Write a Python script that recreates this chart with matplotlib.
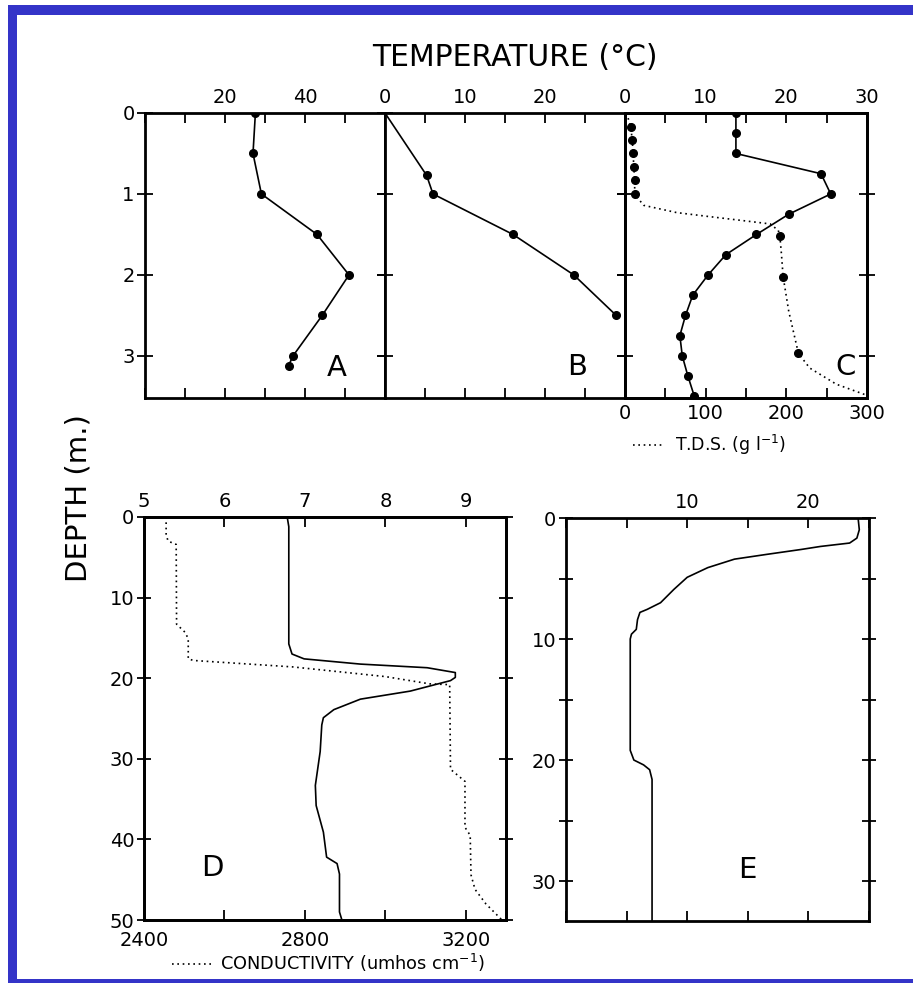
import matplotlib
matplotlib.use('Agg')
import matplotlib.pyplot as plt
from matplotlib.patches import Rectangle

# ---------------- data ----------------
# Panel A
a_depth = [0.0, 0.5, 1.0, 1.5, 2.0, 2.5, 3.0, 3.12]
a_value = [27.6, 27.0, 29.1, 43.0, 51.0, 44.3, 37.0, 35.9]

# Panel B
b_depth = [0.0, 0.77, 1.0, 1.5, 2.0, 2.5]
b_temp = [0.0, 5.2, 6.0, 16.0, 23.6, 28.9]

# Panel C: temperature
c_depth = [0.0, 0.25, 0.5, 0.75, 1.0, 1.25, 1.5, 1.75, 2.0, 2.25, 2.5, 2.75, 3.0, 3.25, 3.5]
c_temp = [13.75, 13.75, 13.75, 24.3, 25.5, 20.3, 16.3, 12.5, 10.3, 8.4, 7.5, 6.8, 7.1, 7.8, 8.6]
# Panel C: T.D.S. samples and profile
c_tds_pt_depth = [0.17, 0.33, 0.5, 0.67, 0.83, 1.0, 1.52, 2.02, 2.97]
c_tds_pt = [7, 9, 10, 11, 12, 12, 192, 196, 215]
c_tds_line_depth = [0.0, 0.17, 0.33, 0.5, 0.67, 0.83, 1.0, 1.14, 1.23, 1.28, 1.33, 1.37,
                    1.45, 1.52, 1.75, 2.02, 2.45, 2.97, 3.15, 3.35, 3.48]
c_tds_line = [2, 7, 9, 10, 11, 12, 12, 23, 64, 105, 147, 180,
              190, 192, 194, 196, 203, 215, 229, 262, 298]

# Panel D: solid profile (top scale) and conductivity (bottom scale)
d_ph_depth = [0, 1.2, 15.75, 17, 17.6, 18.25, 18.7, 19.3, 19.9, 20.3, 21.6, 22.6,
              23.9, 24.9, 25.8, 29.1, 33.3, 35.8, 39.1, 42.2, 43, 44.3, 49, 50]
d_ph = [6.78, 6.80, 6.80, 6.84, 6.99, 7.69, 8.52, 8.87, 8.87, 8.81, 8.31, 7.69,
        7.36, 7.23, 7.21, 7.19, 7.13, 7.14, 7.23, 7.27, 7.40, 7.43, 7.43, 7.46]
d_cond_depth = [0, 2.2, 3.0, 3.4, 13.3, 14.3, 15.1, 17.6, 17.8, 18.6, 19.8, 20.7, 20.8,
                31.3, 32.8, 38.5, 39.5, 44.4, 46.2, 48, 50]
d_cond = [2455, 2455, 2460, 2480, 2481, 2502, 2510, 2510, 2523, 2770, 3000, 3110, 3160,
          3162, 3198, 3198, 3211, 3213, 3223, 3250, 3290]

# Panel E
e_depth = [0, 0.97, 1.66, 2.07, 2.35, 2.6, 3.0, 3.4, 4.1, 4.9, 5.9, 7.0, 7.55, 7.8,
           8.4, 9.2, 9.6, 10, 19.2, 20.0, 20.4, 20.8, 21.6, 33.3]
e_temp = [24.1, 24.2, 24.0, 23.4, 21.0, 19.4, 16.6, 13.9, 11.7, 10.0, 8.9, 7.8, 6.7, 6.1,
          5.9, 5.8, 5.4, 5.3, 5.3, 5.6, 6.4, 6.9, 7.1, 7.1]

# ---------------- figure ----------------
W, H = 913, 983
fig = plt.figure(figsize=(W / 100, H / 100), dpi=100)
plt.rcParams['font.family'] = ['DejaVu Sans']

BLUE = '#3434c8'
for (x0, y0, x1, y1) in [(8, 5, 17, 983), (8, 5, 913, 15), (8, 979, 913, 983)]:
    fig.add_artist(Rectangle((x0 / W, 1 - y1 / H), (x1 - x0) / W, (y1 - y0) / H,
                             transform=fig.transFigure, color=BLUE, lw=0, zorder=0))


def box(l, t, r, b):
    return [l / W, 1 - b / H, (r - l) / W, (b - t) / H]


TS = 14


def style(ax, ylen=11):
    for s in ax.spines.values():
        s.set_linewidth(2.0)
    ax.tick_params(axis='x', which='both', direction='in', length=7, width=1.3,
                   top=True, bottom=True, labelsize=TS, pad=4)
    ax.tick_params(axis='y', direction='inout', length=ylen, width=1.3,
                   left=True, right=True, labelsize=TS, pad=2)


LW = 1.2
MS = 5.5
DOT = (0, (1, 2.2))

# Panel A
axA = fig.add_axes(box(145, 113, 385, 398))
axA.plot(a_value, a_depth, '-', color='k', lw=LW, marker='o', ms=MS)
axA.set_xlim(0, 60)
axA.set_ylim(3.52, 0)
axA.set_xticks(range(0, 61, 10))
axA.set_xticklabels(['', '', '20', '', '40', '', ''])
axA.set_yticks([0, 1, 2, 3])
style(axA)
axA.tick_params(axis='x', labeltop=True, labelbottom=False)
axA.text(0.80, 0.105, 'A', transform=axA.transAxes, fontsize=21, ha='center', va='center')

# Panel B
axB = fig.add_axes(box(385, 113, 625, 398))
axB.plot(b_temp, b_depth, '-', color='k', lw=LW, marker='o', ms=MS,
         markevery=list(range(1, len(b_temp))))
axB.set_xlim(0, 30)
axB.set_ylim(3.52, 0)
axB.set_xticks(range(0, 31, 5))
axB.set_xticklabels(['0', '', '10', '', '20', '', ''])
axB.set_yticks([1, 2, 3])
style(axB)
axB.tick_params(axis='x', labeltop=True, labelbottom=False)
axB.tick_params(axis='y', labelleft=False)
axB.text(0.80, 0.11, 'B', transform=axB.transAxes, fontsize=21, ha='center', va='center')

# Panel C
axC = fig.add_axes(box(625, 113, 867, 398))
tds_line, = axC.plot(c_tds_line, c_tds_line_depth, linestyle=DOT, color='k', lw=LW)
axC.plot(c_tds_pt, c_tds_pt_depth, 'o', color='k', ms=MS)
axC.set_xlim(0, 300)
axC.set_ylim(3.52, 0)
axC.set_xticks(range(0, 301, 50))
axC.set_xticklabels(['0', '', '100', '', '200', '', '300'])
axC.set_yticks([1, 2, 3])
style(axC)
axC.tick_params(axis='x', labeltop=False, labelbottom=True, top=False)
axC.tick_params(axis='y', labelleft=False)
axCt = axC.twiny()
axCt.plot(c_temp, c_depth, '-', color='k', lw=LW, marker='o', ms=MS)
axCt.set_xlim(0, 30)
axCt.set_xticks(range(0, 31, 5))
axCt.set_xticklabels(['0', '', '10', '', '20', '', '30'])
for s in axCt.spines.values():
    s.set_linewidth(2.0)
axCt.tick_params(axis='x', direction='in', length=7, width=1.3, top=True, bottom=False,
                 labeltop=True, labelbottom=False, labelsize=TS, pad=4)
axC.text(0.91, 0.11, 'C', transform=axC.transAxes, fontsize=21, ha='center', va='center')
axC.legend([tds_line], ['T.D.S. (g l$^{-1}$)'], loc='center', bbox_to_anchor=(0.35, -0.165),
           frameon=False, fontsize=12.5, handlelength=1.7, handletextpad=0.7,
           borderaxespad=0, borderpad=0)

# Panel D
axD = fig.add_axes(box(144, 517, 506, 920))
cond_line, = axD.plot(d_cond, d_cond_depth, linestyle=DOT, color='k', lw=LW)
axD.set_xlim(2400, 3300)
axD.set_ylim(50, 0)
axD.set_xticks(range(2400, 3201, 200))
axD.set_xticklabels(['2400', '', '2800', '', '3200'])
axD.set_yticks(range(0, 51, 10))
style(axD, ylen=10)
axD.tick_params(axis='x', labeltop=False, labelbottom=True, top=False, pad=8)
axDt = axD.twiny()
axDt.plot(d_ph, d_ph_depth, '-', color='k', lw=LW)
axDt.set_xlim(5, 9.5)
axDt.set_xticks([5, 6, 7, 8, 9])
for s in axDt.spines.values():
    s.set_linewidth(2.0)
axDt.tick_params(axis='x', direction='in', length=7, width=1.3, top=True, bottom=False,
                 labeltop=True, labelbottom=False, labelsize=TS, pad=4)
axD.text(0.19, 0.13, 'D', transform=axD.transAxes, fontsize=21, ha='center', va='center')
axD.legend([cond_line], ['CONDUCTIVITY (umhos cm$^{-1}$)'], loc='center',
           bbox_to_anchor=(0.51, -0.107), frameon=False, fontsize=12.8,
           handlelength=2.3, handletextpad=0.4, borderaxespad=0, borderpad=0)

# Panel E
axE = fig.add_axes(box(566, 518, 869, 921))
axE.plot(e_temp, e_depth, '-', color='k', lw=LW)
axE.set_xlim(0, 25)
axE.set_ylim(33.3, 0)
axE.set_xticks(range(0, 26, 5))
axE.set_xticklabels(['', '', '10', '', '20', ''])
axE.set_yticks(range(0, 31, 5))
axE.set_yticklabels(['0', '', '10', '', '20', '', '30'])
style(axE, ylen=10)
axE.tick_params(axis='x', labeltop=True, labelbottom=False)
axE.text(0.60, 0.127, 'E', transform=axE.transAxes, fontsize=21, ha='center', va='center')

# Shared labels
fig.text(515 / W, 1 - 57 / H, 'TEMPERATURE (°C)', ha='center', va='center', fontsize=21.5)
fig.text(78 / W, 1 - 498 / H, 'DEPTH (m.)', rotation=90, ha='center', va='center', fontsize=21)

fig.savefig('out.png', dpi=100)
